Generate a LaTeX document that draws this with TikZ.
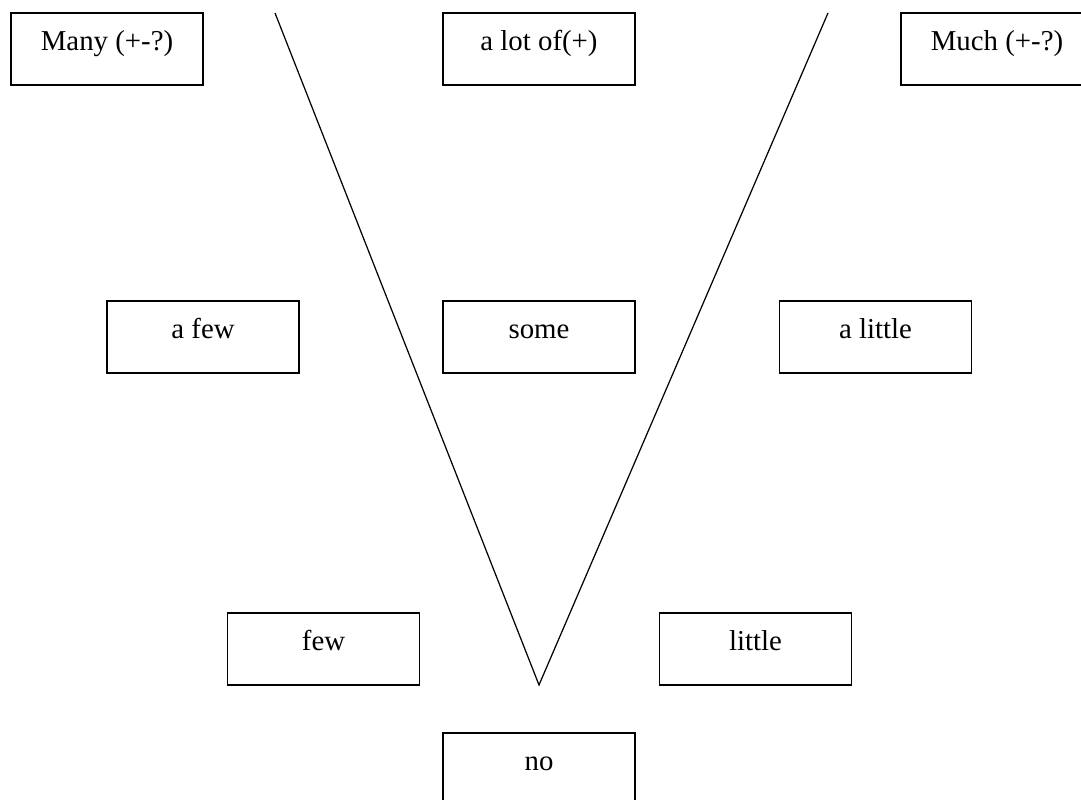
\documentclass[tikz,border=0pt]{standalone}
\usepackage{fontspec}
\setmainfont{Liberation Serif}
\usepackage{tikz}

\begin{document}
\begin{tikzpicture}[every node/.style={rectangle, draw=black, line width=0.7pt, minimum width=3.84cm, inner sep=0pt, text height=0.76cm, text depth=0.68cm, font=\fontsize{16.4}{19}\selectfont}, line width=0.7pt]
		\useasboundingbox (0,0) rectangle (21.62,16);
		\node (many) at (2.14,15.02){Many (+-?)};
		\node (lotof) at (10.78,15.02){a lot of(+)};
		\node (much) at (19.94,15.02){Much (+-?)};
		
		\node (afew) at (4.06,9.26){a few};
		\node (some) at (10.78,9.26){some};
		\node (alittle) at (17.51,9.26){a little};
		
		\node (few) at (6.47,3.02){few};
		\node (little) at (15.11,3.02){little};
		\node (no) at (10.78,0.62){no};
		
		\coordinate (vl) at (5.5,15.74);
		\coordinate (vr) at (16.56,15.74);
		\coordinate (tip) at (10.78,2.3);
		\draw (vl) -- (tip) -- (vr);
		\end{tikzpicture}
\end{document}
